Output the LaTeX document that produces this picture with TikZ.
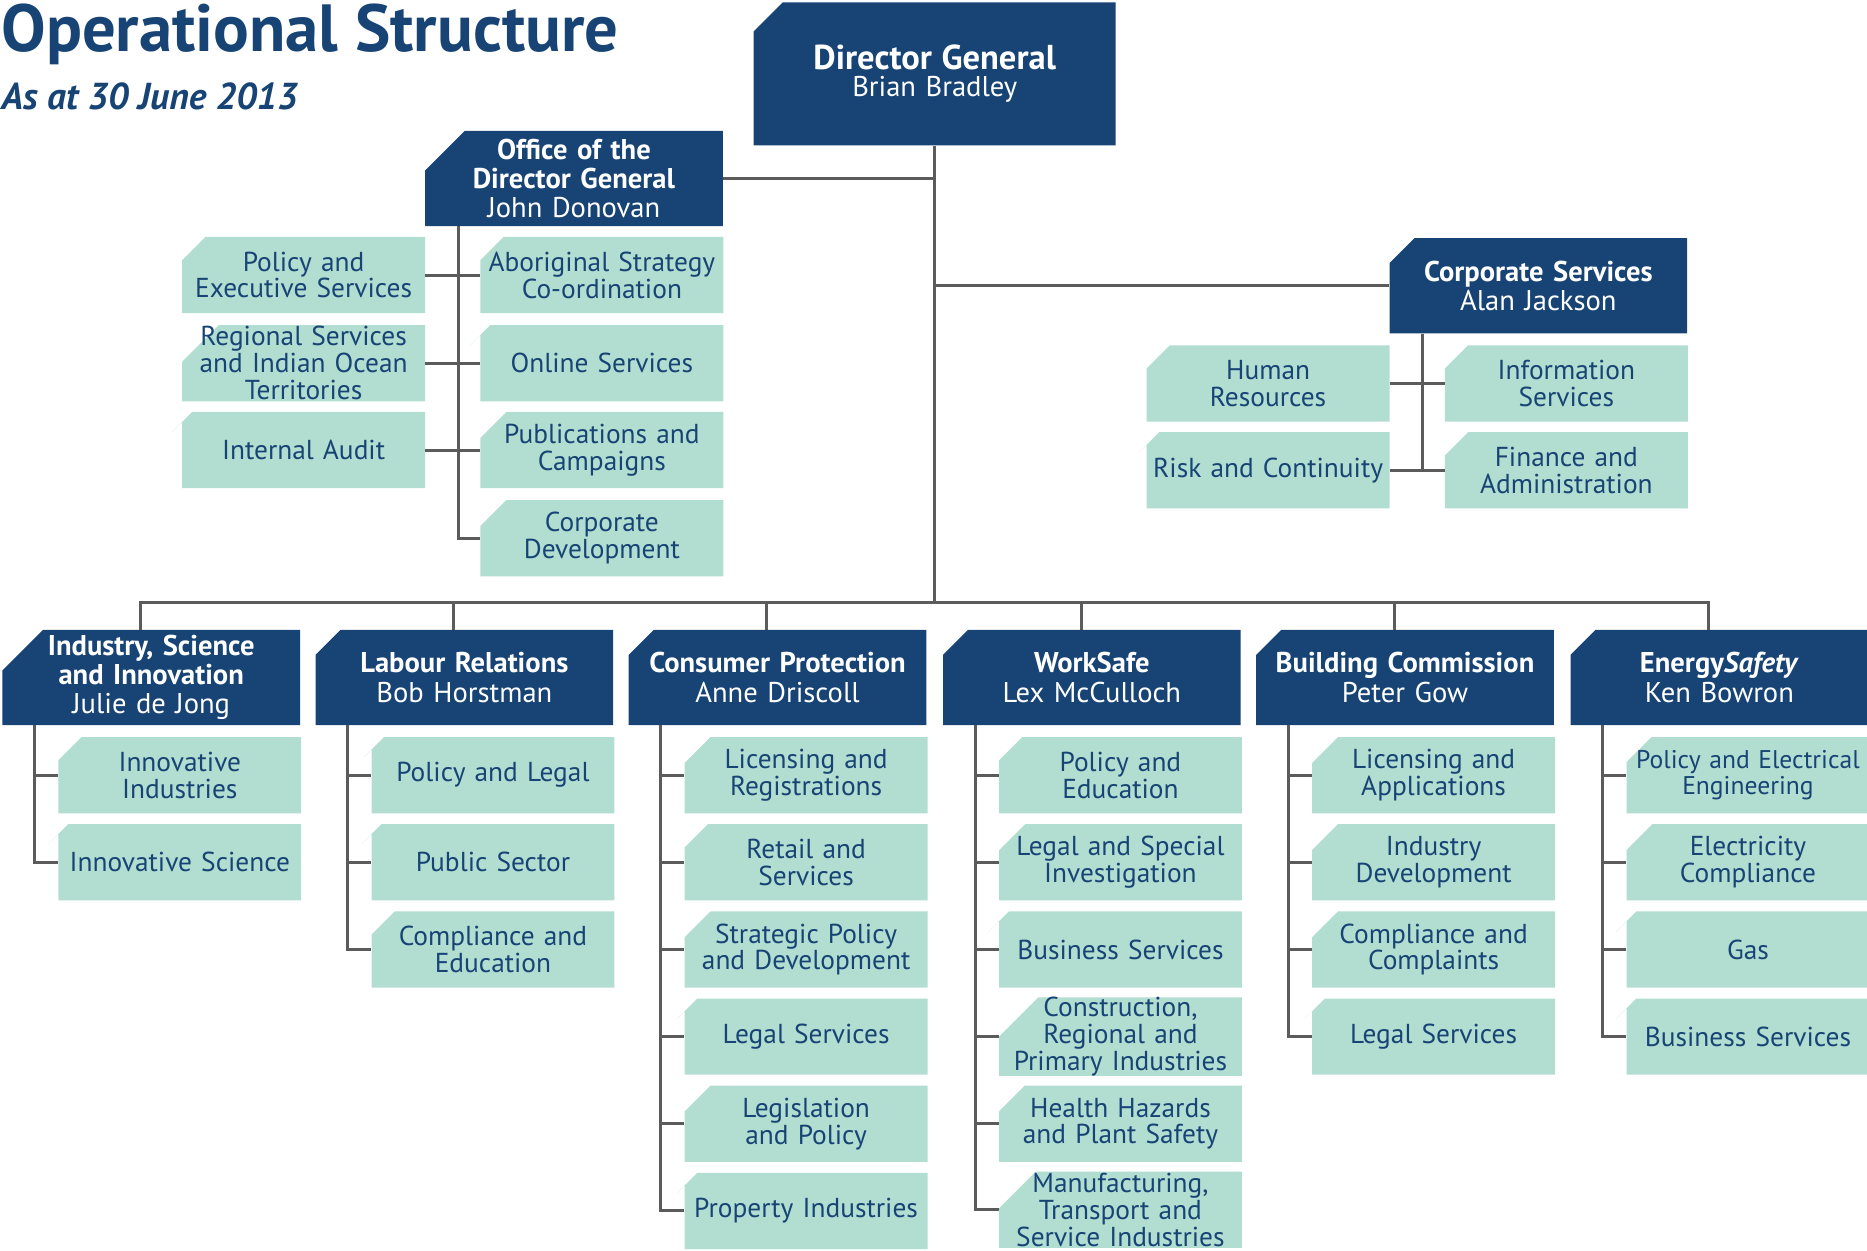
\documentclass[tikz,border=0pt]{standalone}
\usepackage{fontspec}
\setmainfont{PT Sans}
\usetikzlibrary{shapes.misc}

\definecolor{dgblue}{HTML}{174475}
\definecolor{unitgreen}{HTML}{B2DDD1}
\definecolor{linegrey}{HTML}{5B5B5B}

\begin{document}
\begin{tikzpicture}[x=1pt,y=-1pt,
	chief/.style={chamfered rectangle,chamfered rectangle corners=north west,
		chamfered rectangle xsep=17pt,chamfered rectangle ysep=17pt,
		fill=dgblue,text=white,inner sep=-17pt,minimum width=250pt,minimum height=80pt,
		text width=246pt,align=center,font=\fontsize{24}{24.5}\selectfont},
	unit/.style={chamfered rectangle,chamfered rectangle corners=north west,
		chamfered rectangle xsep=17pt,chamfered rectangle ysep=17pt,
		fill=unitgreen,text=dgblue,inner sep=-17pt,minimum width=204pt,minimum height=64pt,
		text width=200pt,align=center,font=\fontsize{23}{22.5}\selectfont},
	link/.style={draw=linegrey,line width=2.5pt}]

	\useasboundingbox (0,0) rectangle (1568,1050);

	% title
	\node[anchor=base west,inner sep=0pt,text=dgblue,font=\bfseries\fontsize{56}{56}\selectfont] (title) at (1,43) {Operational Structure};
	\node[anchor=base west,inner sep=0pt,text=dgblue,font=\bfseries\itshape\fontsize{31.5}{31.5}\selectfont] (subtitle) at (1,92) {As at 30 June 2013};

	% top level
	\node[chief,minimum width=304pt,minimum height=120pt,text width=300pt,font=\fontsize{24}{23}\selectfont] (dg) at (785,62) {{\fontsize{29}{23}\selectfont\bfseries Director General}\\Brian Bradley};
	\node[chief] (odg) at (482,150) {\textbf{Office of the}\\\textbf{Director General}\\John Donovan};
	\node[chief] (cs) at (1292,240) {\textbf{Corporate Services}\\Alan Jackson};
	\coordinate (bus) at (785,506);

	% office of the director general
	\node[unit] (pes) at (255,231)   {Policy and\\Executive Services};
	\node[unit] (rsi) at (255,305)   {Regional Services\\and Indian Ocean\\Territories};
	\node[unit] (ia)  at (255,378)   {Internal Audit};
	\node[unit] (asc) at (505.5,231) {Aboriginal Strategy\\Co-ordination};
	\node[unit] (ons) at (505.5,305) {Online Services};
	\node[unit] (pc)  at (505.5,378) {Publications and\\Campaigns};
	\node[unit] (cd)  at (505.5,452) {Corporate\\Development};

	% corporate services
	\node[unit] (hr) at (1065,322)   {Human\\Resources};
	\node[unit] (rc) at (1065,395)   {Risk and Continuity};
	\node[unit] (is) at (1315.5,322) {Information\\Services};
	\node[unit] (fa) at (1315.5,395) {Finance and\\Administration};

	% divisions
	\node[chief] (isi) at (127,569)  {\textbf{Industry, Science}\\\textbf{and Innovation}\\Julie de Jong};
	\node[chief] (lr)  at (390,569)  {\textbf{Labour Relations}\\Bob Horstman};
	\node[chief] (cp)  at (653,569)  {\textbf{Consumer Protection}\\Anne Driscoll};
	\node[chief] (ws)  at (917,569)  {\textbf{WorkSafe}\\Lex McCulloch};
	\node[chief] (bc)  at (1180,569) {\textbf{Building Commission}\\Peter Gow};
	\node[chief] (es)  at (1444,569) {\textbf{Energy\textit{Safety}}\\Ken Bowron};

	\node[unit] (isi1) at (151,651)   {Innovative\\Industries};
	\node[unit] (isi2) at (151,724.2) {Innovative Science};

	\node[unit] (lr1) at (414,651)   {Policy and Legal};
	\node[unit] (lr2) at (414,724.2) {Public Sector};
	\node[unit] (lr3) at (414,797.4) {Compliance and\\Education};

	\node[unit] (cp1) at (677,651)    {Licensing and\\Registrations};
	\node[unit] (cp2) at (677,724.2)  {Retail and\\Services};
	\node[unit] (cp3) at (677,797.4)  {Strategic Policy\\and Development};
	\node[unit] (cp4) at (677,870.6)  {Legal Services};
	\node[unit] (cp5) at (677,943.8)  {Legislation\\and Policy};
	\node[unit] (cp6) at (677,1017)   {Property Industries};

	\node[unit] (ws1) at (941,651)    {Policy and\\Education};
	\node[unit] (ws2) at (941,724.2)  {Legal and Special\\Investigation};
	\node[unit] (ws3) at (941,797.4)  {Business Services};
	\node[unit] (ws4) at (941,870.6)  {Construction,\\Regional and\\Primary Industries};
	\node[unit] (ws5) at (941,943.8)  {Health Hazards\\and Plant Safety};
	\node[unit] (ws6) at (941,1016)   {Manufacturing,\\Transport and\\Service Industries};

	\node[unit] (bc1) at (1204,651)   {Licensing and\\Applications};
	\node[unit] (bc2) at (1204,724.2) {Industry\\Development};
	\node[unit] (bc3) at (1204,797.4) {Compliance and\\Complaints};
	\node[unit] (bc4) at (1204,870.6) {Legal Services};

	\node[unit,font=\fontsize{21.5}{22.5}\selectfont] (es1) at (1468,651) {Policy and Electrical\\Engineering};
	\node[unit] (es2) at (1468,724.2) {Electricity\\Compliance};
	\node[unit] (es3) at (1468,797.4) {Gas};
	\node[unit] (es4) at (1468,870.6) {Business Services};

	% connectors
	\draw[link] (dg.south) -- (bus);
	\draw[link] (odg.east) -- (odg.east -| dg.south);
	\draw[link] (cs.west) -- (cs.west -| dg.south);
	\draw[link] ([xshift=-9pt]isi.north) |- (bus) -| ([xshift=-9pt]es.north);
	\draw[link] ([xshift=-9pt]lr.north) -- ([xshift=-9pt]lr.north |- bus);
	\draw[link] ([xshift=-9pt]cp.north) -- ([xshift=-9pt]cp.north |- bus);
	\draw[link] ([xshift=-9pt]ws.north) -- ([xshift=-9pt]ws.north |- bus);
	\draw[link] ([xshift=-9pt]bc.north) -- ([xshift=-9pt]bc.north |- bus);

	\draw[link] ([xshift=-97pt]odg.south) |- (cd.west);
	\draw[link] (pes.east) -- (asc.west);
	\draw[link] (rsi.east) -- (ons.west);
	\draw[link] (ia.east) -- (pc.west);

	\draw[link] ([xshift=-97pt]cs.south) |- (fa.west);
	\draw[link] (hr.east) -- (is.west);
	\draw[link] (rc.east) -- (fa.west);

	\draw[link] ([xshift=-98pt]isi.south) |- (isi1.west);
	\draw[link] ([xshift=-98pt]isi.south) |- (isi2.west);

	\draw[link] ([xshift=-98pt]lr.south) |- (lr1.west);
	\draw[link] ([xshift=-98pt]lr.south) |- (lr2.west);
	\draw[link] ([xshift=-98pt]lr.south) |- (lr3.west);

	\draw[link] ([xshift=-98pt]cp.south) |- (cp1.west);
	\draw[link] ([xshift=-98pt]cp.south) |- (cp2.west);
	\draw[link] ([xshift=-98pt]cp.south) |- (cp3.west);
	\draw[link] ([xshift=-98pt]cp.south) |- (cp4.west);
	\draw[link] ([xshift=-98pt]cp.south) |- (cp5.west);
	\draw[link] ([xshift=-98pt]cp.south) |- (cp6.west);

	\draw[link] ([xshift=-98pt]ws.south) |- (ws1.west);
	\draw[link] ([xshift=-98pt]ws.south) |- (ws2.west);
	\draw[link] ([xshift=-98pt]ws.south) |- (ws3.west);
	\draw[link] ([xshift=-98pt]ws.south) |- (ws4.west);
	\draw[link] ([xshift=-98pt]ws.south) |- (ws5.west);
	\draw[link] ([xshift=-98pt]ws.south) |- (ws6.west);

	\draw[link] ([xshift=-98pt]bc.south) |- (bc1.west);
	\draw[link] ([xshift=-98pt]bc.south) |- (bc2.west);
	\draw[link] ([xshift=-98pt]bc.south) |- (bc3.west);
	\draw[link] ([xshift=-98pt]bc.south) |- (bc4.west);

	\draw[link] ([xshift=-98pt]es.south) |- (es1.west);
	\draw[link] ([xshift=-98pt]es.south) |- (es2.west);
	\draw[link] ([xshift=-98pt]es.south) |- (es3.west);
	\draw[link] ([xshift=-98pt]es.south) |- (es4.west);
\end{tikzpicture}
\end{document}
